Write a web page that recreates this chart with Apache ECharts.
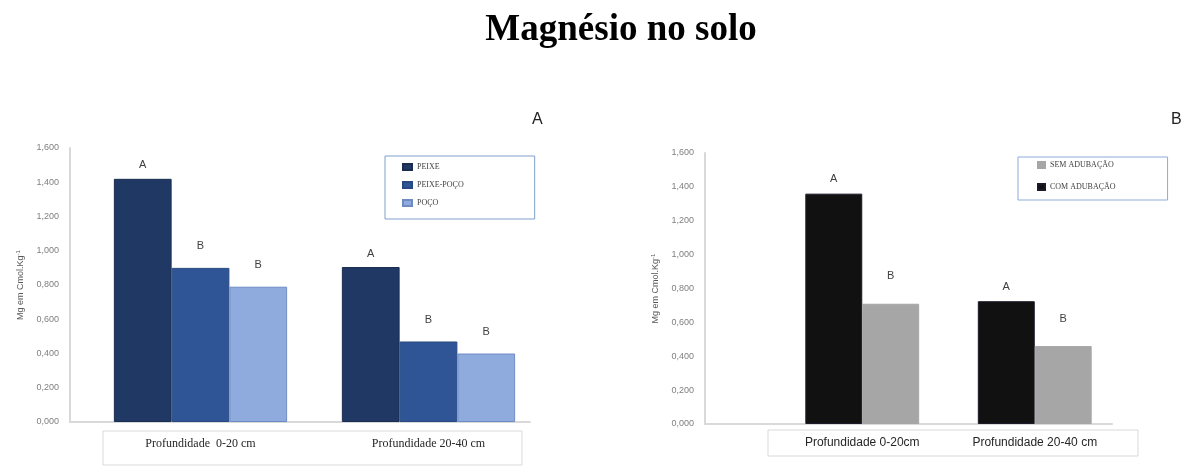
<!DOCTYPE html>
<html>
<head>
<meta charset="utf-8">
<script src="https://cdn.jsdelivr.net/npm/echarts@6/dist/echarts.min.js"></script>
<style>
  html, body { margin: 0; padding: 0; background: #fff; }
  #chart { width: 1195px; height: 467px; }
</style>
</head>
<body>
<div id="chart"></div>
<script>
// Magnesium content (cmol/kg) by soil depth
const depthsA = ['Profundidade  0-20 cm', 'Profundidade 20-40 cm'];
const depthsB = ['Profundidade 0-20cm', 'Profundidade 20-40 cm'];

// Panel A: irrigation water source
const peixe = [1.42, 0.905];
const peixePoco = [0.90, 0.47];
const poco = [0.79, 0.40];
const lettersPeixe = ['A', 'A'];
const lettersPeixePoco = ['B', 'B'];
const lettersPoco = ['B', 'B'];

// Panel B: fertilisation
const comAdubacao = [1.36, 0.725];
const semAdubacao = [0.71, 0.46];
const lettersCom = ['A', 'A'];
const lettersSem = ['B', 'B'];

const yTicks = { min: 0, max: 1.6, interval: 0.2 };

const chart = echarts.init(document.getElementById('chart'));

const fmt = v => v.toFixed(3).replace('.', ',');
const lineColor = '#d9d9d9';

function axisY(gridIndex, visible) {
  if (!visible) {
    return { type: 'value', gridIndex, min: yTicks.min, max: yTicks.max, interval: yTicks.interval, show: false };
  }
  return {
    type: 'value', gridIndex,
    min: yTicks.min, max: yTicks.max, interval: yTicks.interval,
    axisLine: { show: true, lineStyle: { color: lineColor, width: 2 } },
    axisTick: { show: false },
    splitLine: { show: false },
    axisLabel: { formatter: fmt, color: '#7f7f7f', fontSize: 9, fontFamily: 'Liberation Sans', margin: 11 },
    name: '{a|Mg em Cmol.Kg}{s|-1}',
    nameLocation: 'middle',
    nameRotate: 90,
    nameGap: 44,
    nameTextStyle: {
      rich: {
        a: { fontSize: 9, color: '#595959', fontFamily: 'Liberation Sans' },
        s: { fontSize: 6, color: '#595959', fontFamily: 'Liberation Sans', verticalAlign: 'top', padding: [0, 0, 5, 0] }
      }
    }
  };
}

function axisLineX(gridIndex, cats) {
  return {
    type: 'category', gridIndex, data: cats,
    axisLine: { show: true, lineStyle: { color: lineColor, width: 2 } },
    axisTick: { show: false }, axisLabel: { show: false }
  };
}

function axisLabelX(gridIndex, cats, font, size, margin) {
  return {
    type: 'category', gridIndex, data: cats,
    axisLine: { show: false }, axisTick: { show: false },
    axisLabel: { color: '#262626', fontSize: size, fontFamily: font, margin }
  };
}

function bars(name, values, letters, color, border, xi, yi, dist, gapCat) {
  return {
    name, type: 'bar', xAxisIndex: xi, yAxisIndex: yi,
    data: values, barGap: '0%', barCategoryGap: gapCat,
    itemStyle: { color, borderColor: border, borderWidth: 1 },
    label: {
      show: true, position: 'top', distance: dist,
      formatter: p => letters[p.dataIndex],
      color: '#404040', fontSize: 11, fontFamily: 'Liberation Sans'
    }
  };
}

const option = {
  backgroundColor: '#ffffff',
  animation: false,
  title: [
    { text: 'Magnésio no solo', left: 616, top: 7, textAlign: 'center',
      textStyle: { fontFamily: 'Liberation Serif', fontWeight: 'bold', fontSize: 37, color: '#000' } },
    { text: 'A', left: 527, top: 107, textStyle: { fontFamily: 'Liberation Sans', fontWeight: 'normal', fontSize: 16, color: '#222' } },
    { text: 'B', left: 1166, top: 107, textStyle: { fontFamily: 'Liberation Sans', fontWeight: 'normal', fontSize: 16, color: '#222' } }
  ],
  legend: [
    {
      data: ['PEIXE', 'PEIXE-POÇO', 'POÇO'],
      orient: 'vertical', left: 385, top: 156,
      padding: [7, 71, 12, 17], itemGap: 10,
      itemWidth: 9, itemHeight: 6, icon: 'rect',
      borderColor: '#7f9fcf', borderWidth: 1,
      textStyle: { fontFamily: 'Liberation Serif', fontSize: 8, color: '#404040' }
    },
    {
      data: ['SEM ADUBAÇÃO', 'COM ADUBAÇÃO'],
      orient: 'vertical', left: 1018, top: 157,
      padding: [4, 52, 9, 19], itemGap: 14,
      itemWidth: 7, itemHeight: 6, icon: 'rect',
      borderColor: '#8ea9db', borderWidth: 1,
      textStyle: { fontFamily: 'Liberation Serif', fontSize: 8, color: '#404040' }
    }
  ],
  grid: [
    { left: 70, top: 148, width: 460, height: 274 },
    { left: 86.5, top: 148, width: 456, height: 274 },
    { left: 705, top: 153, width: 407, height: 271 },
    { left: 776, top: 153, width: 345, height: 271 }
  ],
  xAxis: [
    axisLineX(0, depthsA),
    axisLabelX(1, depthsA, 'Liberation Serif', 12, 16),
    axisLineX(2, depthsB),
    axisLabelX(3, depthsB, 'Liberation Sans', 12, 13)
  ],
  yAxis: [axisY(0, true), axisY(1, false), axisY(2, true), axisY(3, false)],
  graphic: [
    { type: 'rect', shape: { x: 103, y: 431, width: 419, height: 34 },
      style: { fill: 'none', stroke: '#d9d9d9', lineWidth: 1 }, z: 0 },
    { type: 'rect', shape: { x: 768, y: 430, width: 370, height: 26 },
      style: { fill: 'none', stroke: '#d9d9d9', lineWidth: 1 }, z: 0 }
  ],
  series: [
    bars('PEIXE', peixe, lettersPeixe, '#203864', '#1a2d50', 1, 1, 8, '24%'),
    bars('PEIXE-POÇO', peixePoco, lettersPeixePoco, '#2f5597', '#27497f', 1, 1, 16, '24%'),
    bars('POÇO', poco, lettersPoco, '#8faadc', '#6e8cc4', 1, 1, 16, '24%'),
    bars('COM ADUBAÇÃO', comAdubacao, lettersCom, '#111111', '#1a1a2a', 3, 3, 9, '34%'),
    bars('SEM ADUBAÇÃO', semAdubacao, lettersSem, '#a6a6a6', '#a6a6a6', 3, 3, 22, '34%')
  ]
};

chart.setOption(option);
</script>
</body>
</html>
